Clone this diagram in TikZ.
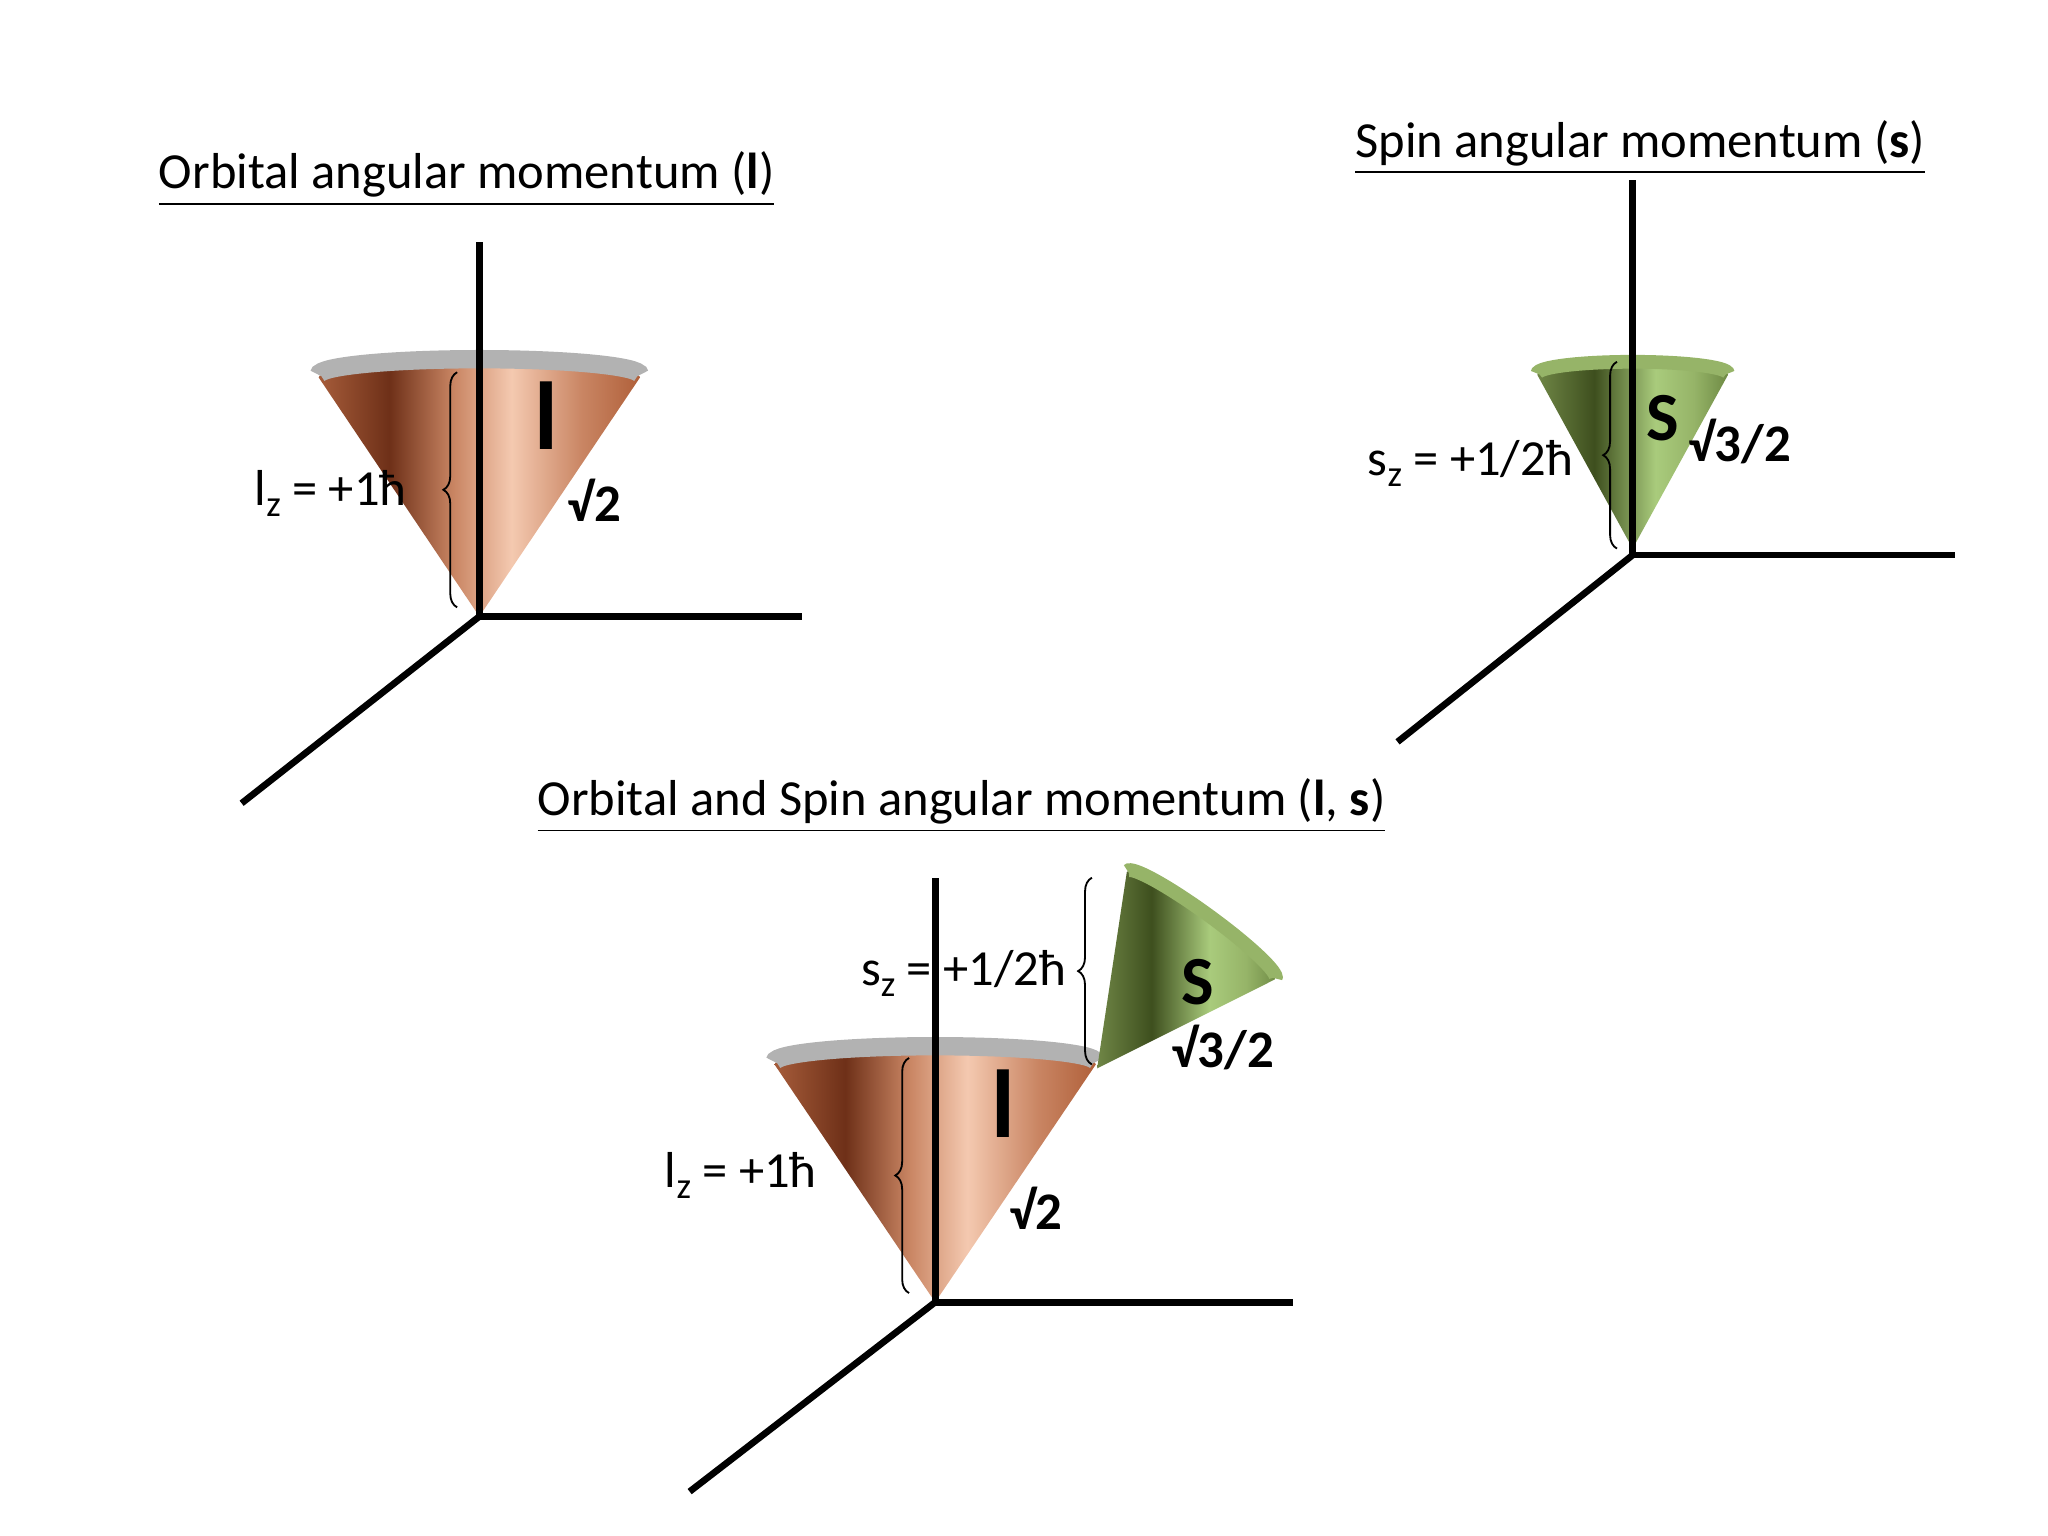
\documentclass[tikz,border=0pt]{standalone}
\usepackage{fontspec}
\setmainfont{Carlito}
\usetikzlibrary{decorations.pathreplacing}
\definecolor{cA}{HTML}{A65C3A}\definecolor{cB}{HTML}{6E3018}\definecolor{cC}{HTML}{C98563}
\definecolor{cD}{HTML}{F4C9B0}\definecolor{cE}{HTML}{B0603A}
\definecolor{gA}{HTML}{6F8646}\definecolor{gB}{HTML}{3E4F1E}\definecolor{gC}{HTML}{A9CB7C}
\definecolor{gD}{HTML}{96B468}\definecolor{gE}{HTML}{6E8A44}
\pgfdeclarehorizontalshading{copper}{100bp}{color(0bp)=(cA); color(25bp)=(cA); color(36bp)=(cB); color(46bp)=(cC); color(55bp)=(cD); color(66bp)=(cC); color(75bp)=(cE); color(100bp)=(cE)}
\pgfdeclarehorizontalshading{olive}{100bp}{color(0bp)=(gA); color(25bp)=(gA); color(40bp)=(gB); color(56bp)=(gC); color(66bp)=(gD); color(75bp)=(gE); color(100bp)=(gE)}
\newcommand\copcone[3]{% r h e
  \shade[shading=copper] (0,0) -- (-#1,-#2) arc[start angle=180,end angle=360,x radius=#1,y radius=#3] -- cycle;
  \draw[gray!60,line width=4] (-#1,-#2-2) arc[start angle=180,end angle=360,x radius=#1,y radius=#3];}
\newcommand\grncone[3]{%
  \shade[shading=olive] (0,0) -- (-#1,-#2) arc[start angle=180,end angle=360,x radius=#1,y radius=#3] -- cycle;
  \draw[gD,line width=3] (-#1,-#2-1) arc[start angle=180,end angle=360,x radius=#1,y radius=#3];}
\begin{document}
\begin{tikzpicture}[x=0.01cm,y=-0.01cm,
  axis/.style={line width=1.45pt,black},
  br/.style={decorate,decoration={brace,amplitude=3pt},thin},
  lab/.style={font=\fontsize{11}{13}\selectfont,inner sep=0pt},
  big/.style={font=\bfseries\fontsize{21}{22}\selectfont,inner sep=0pt},
  sym/.style={font=\bfseries\fontsize{15}{16}\selectfont,inner sep=0pt},
  val/.style={font=\bfseries\fontsize{11.5}{13}\selectfont,inner sep=0pt}]
\useasboundingbox (0,0) rectangle (1568,1176);
% ---- Diagram 1
\coordinate (o1) at (367,472);
\begin{scope}[shift={(o1)}] \copcone{123}{183}{12} \end{scope}
\draw[axis] (o1) -- (367,185) coordinate (z1);
\draw[axis] (o1) -- (614,472) coordinate (x1);
\draw[axis] (o1) -- (185,615) coordinate (y1);
\draw[br] (350,465) coordinate (b1a) -- (350,285) coordinate (b1b);
\node[lab,anchor=east] (lz1) at (312,378) {l\raisebox{-0.45ex}{\footnotesize z} = +1ħ};
\node[big] (l1) at (418,318) {l};
\node[val] (v1) at (455,383) {√2};
\node[lab,anchor=west] (t1) at (121,137) {\underline{Orbital angular momentum (\textbf{l})}};
% ---- Diagram 2
\coordinate (o2) at (1250,425);
\begin{scope}[shift={(1250,420)}] \grncone{73}{133}{9} \end{scope}
\draw[axis] (o2) -- (1250,138) coordinate (z2);
\draw[axis] (o2) -- (1497,425) coordinate (x2);
\draw[axis] (o2) -- (1070,568) coordinate (y2);
\draw[br] (1238,420) coordinate (b2a) -- (1238,277) coordinate (b2b);
\node[lab,anchor=east] (sz2) at (1205,355) {s\raisebox{-0.45ex}{\footnotesize z} = +1/2ħ};
\node[sym] (s2) at (1273,320) {S};
\node[val] (v2) at (1332,338) {√3/2};
\node[lab,anchor=west] (t2) at (1037,113) {\underline{Spin angular momentum (\textbf{s})}};
% ---- Diagram 3
\coordinate (o3) at (716,997);
\begin{scope}[shift={(o3)}] \copcone{123}{182}{12} \end{scope}
\begin{scope}[shift={(840,818)},rotate=-36] \grncone{70}{135}{9} \end{scope}
\draw[axis] (o3) -- (716,672) coordinate (z3);
\draw[axis] (o3) -- (990,997) coordinate (x3);
\draw[axis] (o3) -- (528,1142) coordinate (y3);
\draw[br] (696,990) coordinate (b3a) -- (696,810) coordinate (b3b);
\draw[br] (836,815) coordinate (b4a) -- (836,672) coordinate (b4b);
\node[lab,anchor=east] (lz3) at (626,900) {l\raisebox{-0.45ex}{\footnotesize z} = +1ħ};
\node[lab,anchor=east] (sz3) at (817,745) {s\raisebox{-0.45ex}{\footnotesize z} = +1/2ħ};
\node[big] (l3) at (768,845) {l};
\node[val] (v3) at (793,925) {√2};
\node[sym] (s3) at (917,752) {S};
\node[val] (v4) at (936,802) {√3/2};
\node[lab,anchor=west] (t3) at (411,617) {\underline{Orbital and Spin angular momentum (\textbf{l}, \textbf{s})}};
\end{tikzpicture}
\end{document}
